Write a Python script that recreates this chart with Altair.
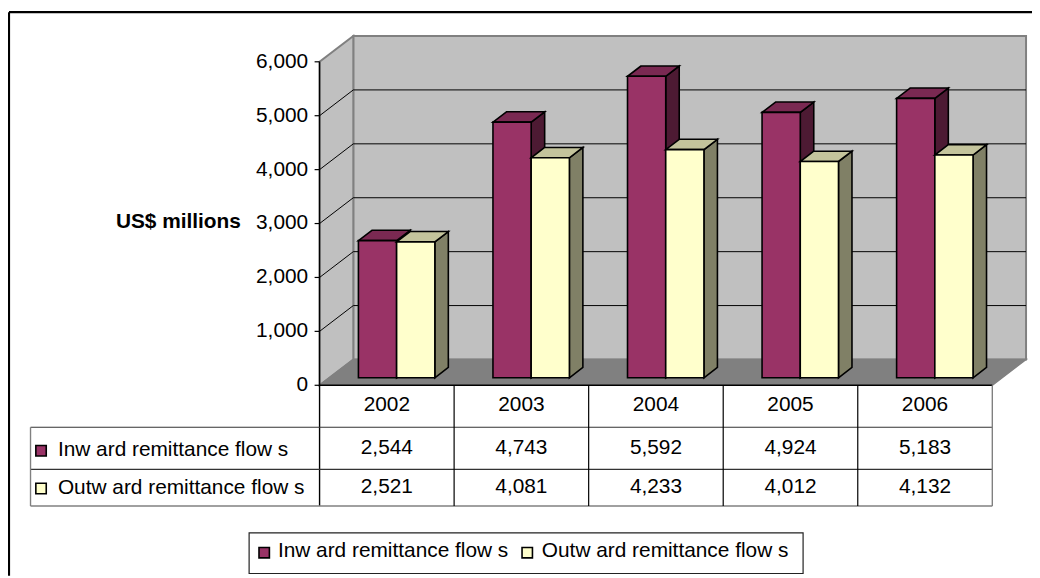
import altair as alt
import pandas as pd

# ---------------- data ----------------
years = ["2002", "2003", "2004", "2005", "2006"]
inward = [2544, 4743, 5592, 4924, 5183]
outward = [2521, 4081, 4233, 4012, 4132]
series = ["Inw ard remittance flow s", "Outw ard remittance flow s"]
y_ticks = [0, 1000, 2000, 3000, 4000, 5000, 6000]
y_title = "US$ millions"

# ---------------- styles ----------------
front_colors = ["#993366", "#FFFFCC"]
top_colors = ["#7A2952", "#C4C49C"]
side_colors = ["#4D1A33", "#808066"]
WALL = "#C0C0C0"
FLOOR = "#808080"
EDGE = "#808080"
FONT = "Liberation Sans"
FS = 21

# ---------------- layout (screen pixels -> data units) ----------------
W, H = 1032, 570
MARGIN = 8
X0_SCREEN = 322.0          # left end of category axis
Y0_SCREEN = 386.0          # value 0 on the front plane
PX_PER_CAT = 135.6
PX_PER_VAL = 326.0 / 6000.0


def sx(px):
    return (px - X0_SCREEN) / PX_PER_CAT


def sy(py):
    return (Y0_SCREEN - py) / PX_PER_VAL


x_dom = [sx(MARGIN), sx(MARGIN + W)]
y_dom = [sy(MARGIN + H), sy(MARGIN)]
XS = alt.Scale(domain=x_dom, nice=False, zero=False)
YS = alt.Scale(domain=y_dom, nice=False, zero=False)


def ex(f):
    return alt.X(f"{f}:Q", scale=XS, axis=None)


def ey(f):
    return alt.Y(f"{f}:Q", scale=YS, axis=None)


NCAT = len(years)
YMAX = max(y_ticks)
DX = 34.0 / PX_PER_CAT      # full depth of the 3D box (x)
DY = 26.0 / PX_PER_VAL      # full depth of the 3D box (y)
F_DEPTH = 0.29              # depth of bar front faces
G_DEPTH = 0.40              # bar thickness
BAR_W = 0.284               # bar width in category units

layers = []

# ---------------- frame ----------------
frame = pd.DataFrame([
    dict(x=sx(9), x2=x_dom[1], y=sy(10), y2=sy(10)),
    dict(x=sx(9), x2=sx(9), y=sy(10), y2=y_dom[0]),
])
layers.append(alt.Chart(frame).mark_rule(color="black", strokeWidth=2.2).encode(
    x=ex("x"), x2=alt.X2("x2"), y=ey("y"), y2=alt.Y2("y2")))

# ---------------- walls & floor ----------------
back = pd.DataFrame([dict(x=DX, x2=NCAT + DX, y=DY, y2=YMAX + DY)])
layers.append(alt.Chart(back).mark_rect(fill=WALL, stroke=EDGE, strokeWidth=2).encode(
    x=ex("x"), x2=alt.X2("x2"), y=ey("y"), y2=alt.Y2("y2")))

left_wall = pd.DataFrame([dict(x=0.0, y=0.0, y2=YMAX), dict(x=DX, y=DY, y2=YMAX + DY)])
layers.append(alt.Chart(left_wall).mark_area(fill=WALL, stroke=EDGE, strokeWidth=2).encode(
    x=ex("x"), y=ey("y"), y2=alt.Y2("y2")))

floor = pd.DataFrame([dict(y=0.0, x=0.0, x2=float(NCAT)), dict(y=DY, x=DX, x2=NCAT + DX)])
layers.append(alt.Chart(floor).mark_area(orient="horizontal", fill=FLOOR, stroke=EDGE,
                                         strokeWidth=1.5).encode(
    y=ey("y"), x=ex("x"), x2=alt.X2("x2")))

# gridlines on back and left walls
grid = []
for t in y_ticks[1:-1]:
    grid.append(dict(x=DX, x2=NCAT + DX, y=t + DY, y2=t + DY))
    grid.append(dict(x=0.0, x2=DX, y=float(t), y2=t + DY))
layers.append(alt.Chart(pd.DataFrame(grid)).mark_rule(color="black", strokeWidth=1).encode(
    x=ex("x"), x2=alt.X2("x2"), y=ey("y"), y2=alt.Y2("y2")))

# ---------------- bars ----------------
for s, vals in enumerate([inward, outward]):
    front, side, top = [], [], []
    b0 = F_DEPTH * DY
    b1 = (F_DEPTH + G_DEPTH) * DY
    gx = G_DEPTH * DX
    for i, (yr, v) in enumerate(zip(years, vals)):
        xl = i + 0.5 - BAR_W + s * BAR_W + F_DEPTH * DX
        xr = xl + BAR_W
        front.append(dict(x=xl, x2=xr, y=b0, y2=v + b0))
        side.append(dict(id=yr, x=xr, y=b0, y2=v + b0))
        side.append(dict(id=yr, x=xr + gx, y=b1, y2=v + b1))
        top.append(dict(id=yr, y=v + b0, x=xl, x2=xr))
        top.append(dict(id=yr, y=v + b1, x=xl + gx, x2=xr + gx))
    layers.append(alt.Chart(pd.DataFrame(side)).mark_area(
        fill=side_colors[s], stroke="black", strokeWidth=1.6).encode(
        x=ex("x"), y=ey("y"), y2=alt.Y2("y2"), detail="id:N"))
    layers.append(alt.Chart(pd.DataFrame(top)).mark_area(
        orient="horizontal", fill=top_colors[s], stroke="black", strokeWidth=1.6).encode(
        y=ey("y"), x=ex("x"), x2=alt.X2("x2"), detail="id:N"))
    layers.append(alt.Chart(pd.DataFrame(front)).mark_rect(
        fill=front_colors[s], stroke="black", strokeWidth=1.6).encode(
        x=ex("x"), x2=alt.X2("x2"), y=ey("y"), y2=alt.Y2("y2")))

# ---------------- axis line, ticks, table lines ----------------
row_tops = [sy(428.3), sy(470.7)]
tbl_bottom = sy(507.7)
tbl_left = sx(30.7)
lines = [dict(x=0.0, x2=0.0, y=float(YMAX), y2=tbl_bottom, c="black", w=1.4)]
for t in y_ticks:
    lines.append(dict(x=sx(317), x2=0.0, y=float(t), y2=float(t), c="black", w=1.2))
lines.append(dict(x=0.0, x2=float(NCAT), y=0.0, y2=0.0, c="black", w=1.4))
for r in row_tops:
    lines.append(dict(x=tbl_left, x2=float(NCAT), y=r, y2=r, c="#333333", w=1.2))
lines.append(dict(x=tbl_left, x2=float(NCAT), y=tbl_bottom, y2=tbl_bottom, c=EDGE, w=1.4))
for k in range(1, NCAT):
    lines.append(dict(x=float(k), x2=float(k), y=0.0, y2=tbl_bottom, c="black", w=1.2))
lines.append(dict(x=float(NCAT), x2=float(NCAT), y=0.0, y2=tbl_bottom, c=EDGE, w=1.4))
lines.append(dict(x=tbl_left, x2=tbl_left, y=row_tops[0], y2=tbl_bottom, c=EDGE, w=1.4))
layers.append(alt.Chart(pd.DataFrame(lines)).mark_rule().encode(
    x=ex("x"), x2=alt.X2("x2"), y=ey("y"), y2=alt.Y2("y2"),
    color=alt.Color("c:N", scale=None), strokeWidth=alt.StrokeWidth("w:Q", scale=None)))

# ---------------- legend box ----------------
lbox = pd.DataFrame([dict(x=sx(251), x2=sx(809.3), y=sy(534.7), y2=sy(575.7))])
layers.append(alt.Chart(lbox).mark_rect(fill="white", stroke="#222222", strokeWidth=1.2).encode(
    x=ex("x"), x2=alt.X2("x2"), y=ey("y"), y2=alt.Y2("y2")))

# ---------------- texts ----------------
tick_df = pd.DataFrame(dict(v=y_ticks, x=[sx(310.5)] * len(y_ticks), y=y_ticks))
layers.append(alt.Chart(tick_df).mark_text(align="right", baseline="middle", font=FONT,
                                           fontSize=FS, color="black").encode(
    x=ex("x"), y=ey("y"), text=alt.Text("v:Q", format=",")))

title_df = pd.DataFrame([dict(t=y_title, x=sx(242.7), y=sy(221.5))])
layers.append(alt.Chart(title_df).mark_text(align="right", baseline="middle", font=FONT,
                                            fontSize=FS, fontWeight="bold", color="black").encode(
    x=ex("x"), y=ey("y"), text="t:N"))

cells = []
for i, yr in enumerate(years):
    cells.append(dict(t=yr, x=i + 0.5, y=sy(405.8)))
    cells.append(dict(t=f"{inward[i]:,}", x=i + 0.5, y=sy(449.3)))
    cells.append(dict(t=f"{outward[i]:,}", x=i + 0.5, y=sy(488.6)))
layers.append(alt.Chart(pd.DataFrame(cells)).mark_text(align="center", baseline="middle",
                                                       font=FONT, fontSize=FS, color="black").encode(
    x=ex("x"), y=ey("y"), text="t:N"))

labels = [
    dict(t=series[0], x=sx(58.3), y=sy(450.8)),
    dict(t=series[1], x=sx(58.3), y=sy(489.5)),
    dict(t=series[0], x=sx(280.0), y=sy(553.4)),
    dict(t=series[1], x=sx(546.0), y=sy(553.4)),
]
layers.append(alt.Chart(pd.DataFrame(labels)).mark_text(align="left", baseline="middle",
                                                        font=FONT, fontSize=FS, color="black").encode(
    x=ex("x"), y=ey("y"), text="t:N"))

squares = [
    dict(x=sx(41.3), y=sy(452.0), c=front_colors[0]),
    dict(x=sx(41.3), y=sy(490.0), c=front_colors[1]),
    dict(x=sx(266.2), y=sy(554.7), c=front_colors[0]),
    dict(x=sx(531.3), y=sy(554.7), c=front_colors[1]),
]
layers.append(alt.Chart(pd.DataFrame(squares)).mark_square(size=110, stroke="black",
                                                           strokeWidth=1.6, opacity=1).encode(
    x=ex("x"), y=ey("y"), fill=alt.Fill("c:N", scale=None)))

chart = alt.layer(*layers).properties(
    width=W, height=H, padding=0, autosize=alt.AutoSizeParams(type="none"),
    background="white",
).configure_view(stroke=None)

chart.save("out.html", embed_options={"renderer": "svg", "actions": False})
